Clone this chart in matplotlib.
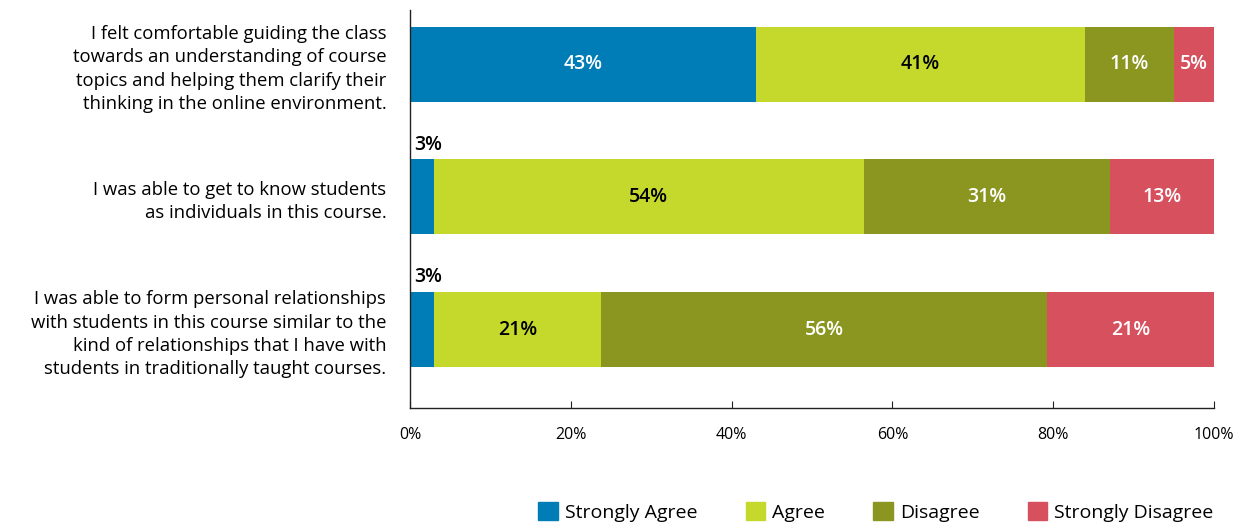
import numpy as np
import matplotlib
matplotlib.use("Agg")
import matplotlib.pyplot as plt
from matplotlib.patches import Patch

plt.rcParams['font.family'] = ['Open Sans', 'DejaVu Sans']

questions = [
    "I felt comfortable guiding the class\ntowards an understanding of course\ntopics and helping them clarify their\nthinking in the online environment.",
    "I was able to get to know students\nas individuals in this course.",
    "I was able to form personal relationships\nwith students in this course similar to the\nkind of relationships that I have with\nstudents in traditionally taught courses.",
]
categories = ["Strongly Agree", "Agree", "Disagree", "Strongly Disagree"]
colors = ["#007DB7", "#C5D92D", "#8A9620", "#D6505E"]
text_colors = ["white", "black", "white", "white"]
values = np.array([
    [43, 41, 11, 5],
    [3, 54, 31, 13],
    [3, 21, 56, 21],
])

fig = plt.figure(figsize=(12.51, 5.22), dpi=100)
ax = fig.add_axes([0.3277, 0.2184, 0.9704 - 0.3277, 0.981 - 0.2184])

y = np.arange(len(questions))
shares = values / values.sum(axis=1, keepdims=True) * 100
left = np.zeros(len(questions))
for j, cat in enumerate(categories):
    ax.barh(y, shares[:, j], left=left, height=0.566, color=colors[j], label=cat)
    for i in range(len(questions)):
        v = values[i, j]
        if v < 4:
            ax.text(left[i] + 0.5, y[i] - 0.32, f"{v}%", ha='left', va='bottom',
                    fontsize=14, color='black', fontweight='semibold')
        else:
            ax.text(left[i] + shares[i, j] / 2, y[i], f"{v}%", ha='center', va='center',
                    fontsize=14, color=text_colors[j], fontweight='semibold')
    left += shares[:, j]

ax.set_ylim(2.592, -0.411)
ax.set_xlim(0, 100)
ax.set_yticks(y)
ax.set_yticklabels(questions, fontsize=13.3, linespacing=1.38)
ax.tick_params(axis='y', length=0, pad=17)
ax.set_xticks([0, 20, 40, 60, 80, 100])
ax.set_xticklabels(["0%", "20%", "40%", "60%", "80%", "100%"], fontsize=11.5)
ax.tick_params(axis='x', direction='in', length=5, pad=14, color='#222222')
for s in ['top', 'right']:
    ax.spines[s].set_visible(False)
for s in ['left', 'bottom']:
    ax.spines[s].set_color('#222222')
    ax.spines[s].set_linewidth(1)

handles = [Patch(color=c, label=l) for c, l in zip(colors, categories)]
fig.legend(handles=handles, loc='lower right', bbox_to_anchor=(0.984, -0.033), ncol=4,
           frameon=False, fontsize=14, handlelength=1.0, handleheight=1.0,
           handletextpad=0.35, columnspacing=2.5)

fig.savefig("out.png", dpi=100)
